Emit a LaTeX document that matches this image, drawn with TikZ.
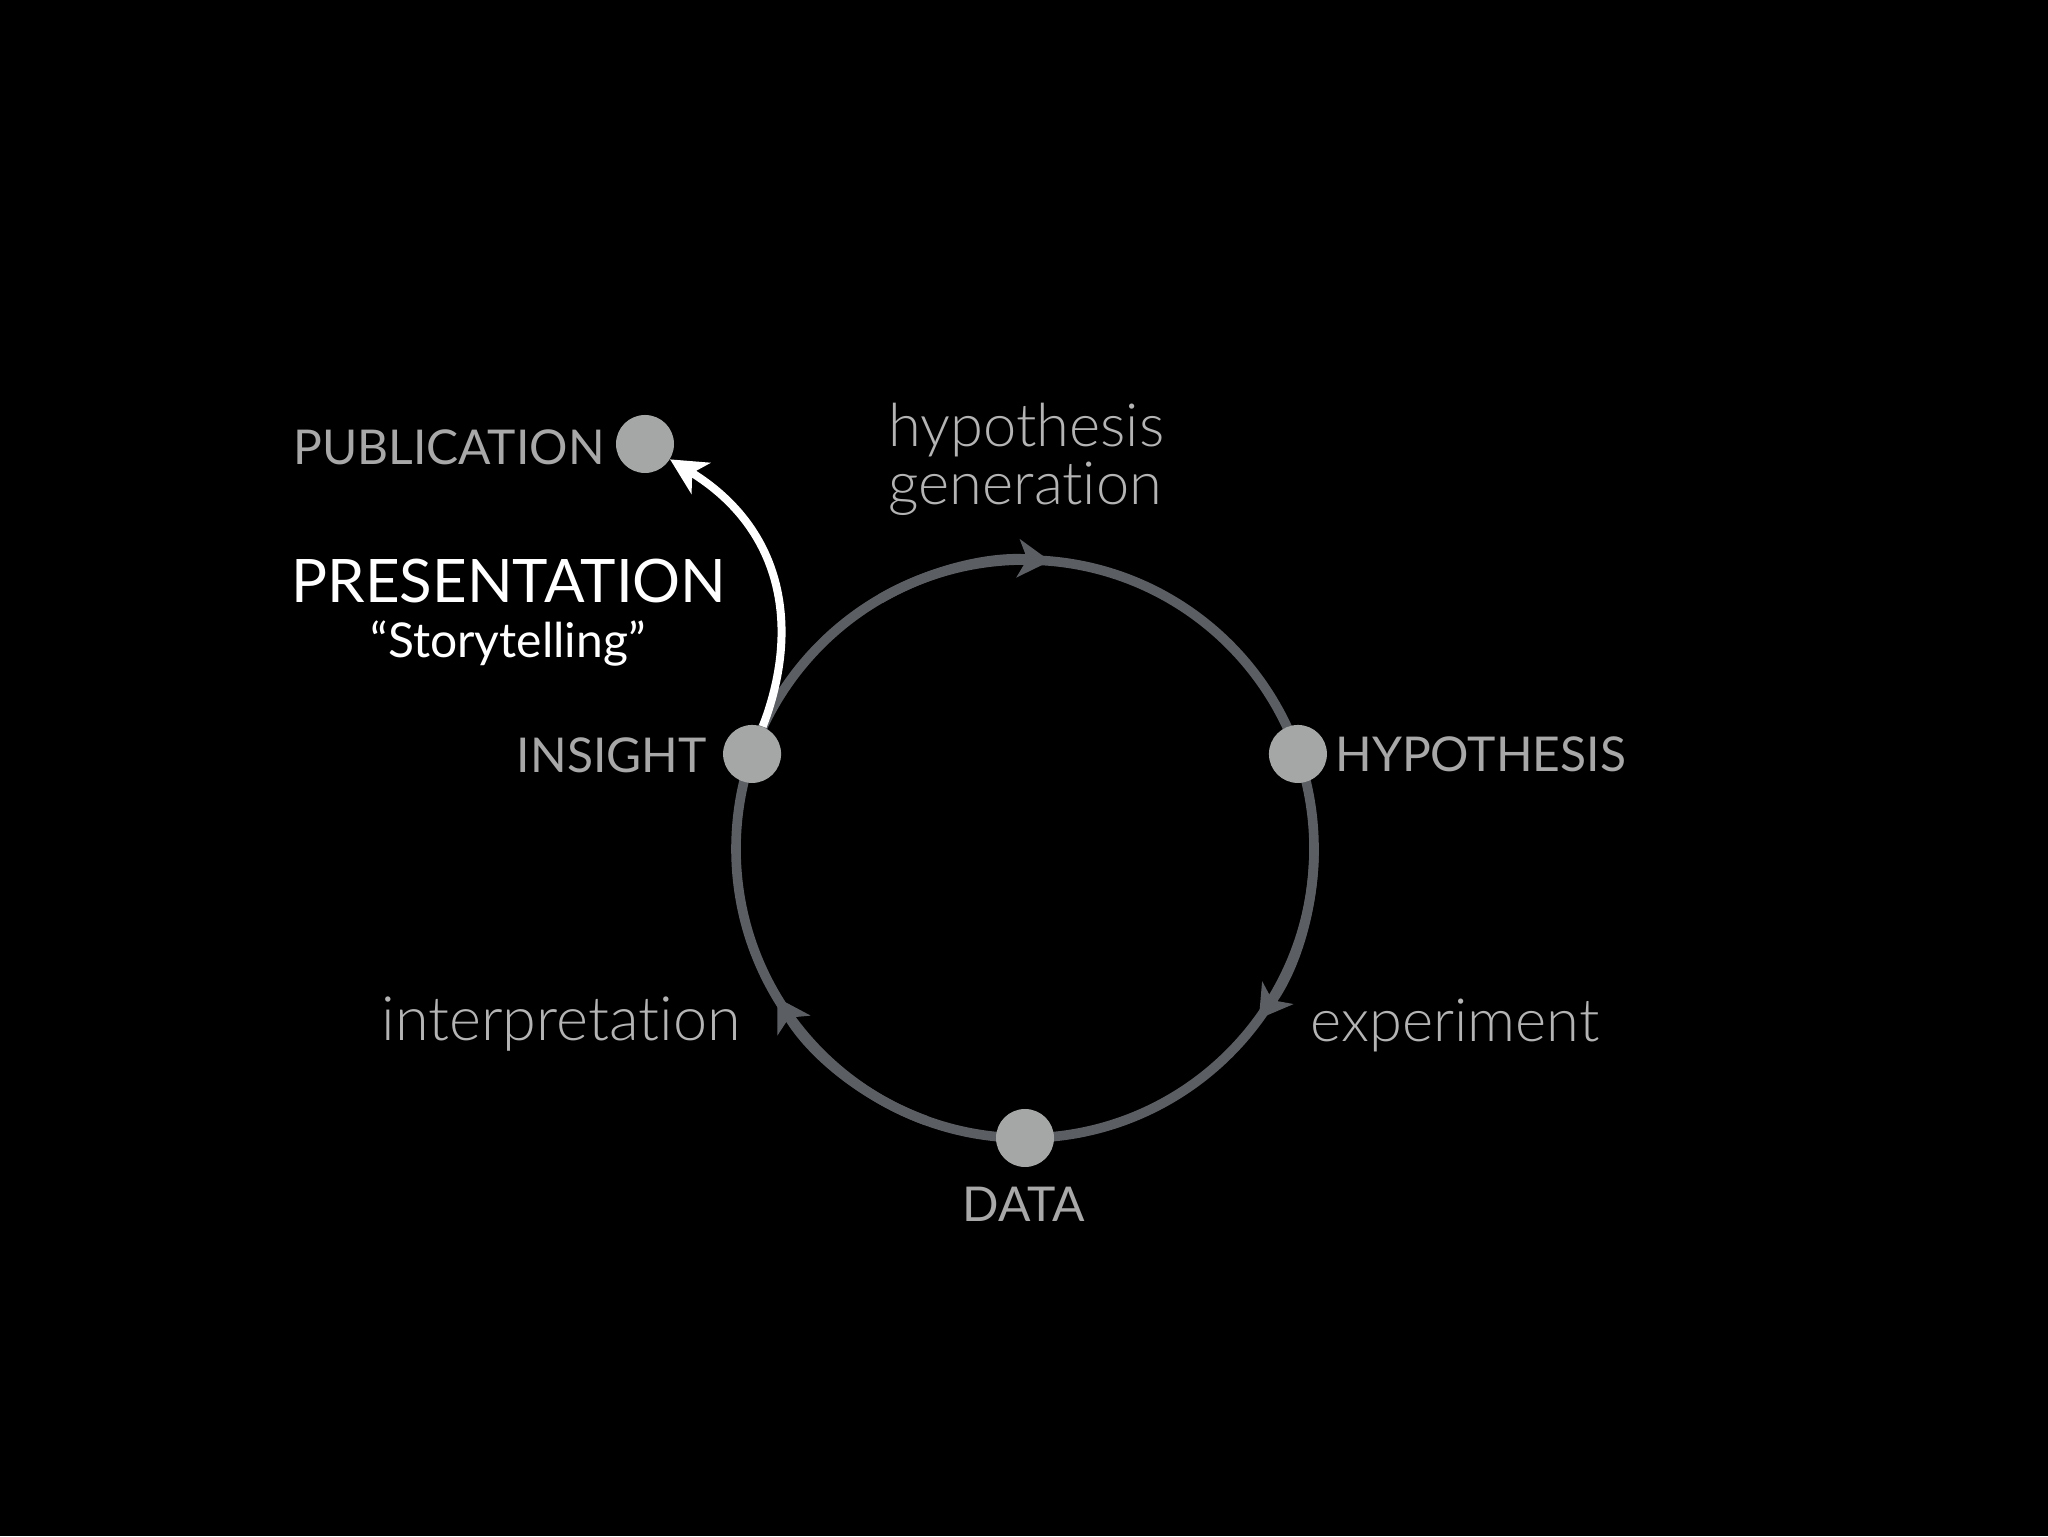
\documentclass[tikz,border=0pt]{standalone}
\usepackage{fontspec}
\setmainfont{Lato}[Ligatures={NoCommon}]
\newfontfamily\lightfont{Lato Light}[Ligatures={NoCommon,NoRare}]
\usetikzlibrary{arrows.meta}
\definecolor{ringc}{HTML}{5B5E63}
\definecolor{dotc}{HTML}{A4A7A6}
\definecolor{capc}{HTML}{A8A8A8}
\definecolor{lightc}{HTML}{B4B4B4}
\begin{document}
\begin{tikzpicture}[x=0.5pt,y=0.5pt,
  dot/.style={circle,fill=dotc,minimum size=29pt,inner sep=0pt},
  caplabel/.style={text=capc,font=\fontsize{24}{28}\selectfont,inner sep=0pt},
  phase/.style={text=lightc,font=\lightfont\fontsize{29.8}{36}\selectfont,inner sep=0pt},
  ring/.style={draw=ringc,line width=4.8pt},
  ringtip/.style={-{Stealth[length=16pt,width=19pt,inset=4.5pt]}},
  presarrow/.style={draw=white,line width=4pt,-{Stealth[length=18pt,width=18pt,inset=5pt]}},
]
\fill[black] (0,0) rectangle (2048,1536);
\useasboundingbox (0,0) rectangle (2048,1536);
\coordinate (c) at (1025,687);
% ring
\draw[ring] (c) circle[radius=144.5pt];
\draw[ring,ringtip] ([shift={(120:144.5pt)}]c) arc[start angle=120,end angle=85,radius=144.5pt];
\draw[ring,ringtip] ([shift={(0:144.5pt)}]c) arc[start angle=0,end angle=-36,radius=144.5pt];
\draw[ring,ringtip] ([shift={(250:144.5pt)}]c) arc[start angle=250,end angle=211,radius=144.5pt];
% dots
\node[dot] (pub) at (645,1092) {};
\node[dot] (ins) at ([shift={(160.8:144.5pt)}]c) {};
\node[dot] (hyp) at ([shift={(19.2:144.5pt)}]c) {};
\node[dot] (dat) at ([shift={(270:144.5pt)}]c) {};
% presentation arrow
\draw[presarrow] (ins) .. controls (800,906) and (785,1006) .. (pub);
% labels
\node[caplabel,anchor=east] (publ) at (605,1089) {PUBLICATION};
\node[text=white,font=\fontsize{30}{36}\selectfont,inner sep=0pt] (pres) at (509,955) {PRESENTATION};
\node[text=white,font=\fontsize{24}{28}\selectfont,inner sep=0pt,anchor=base] (story) at (508,878) {“Storytelling”};
\node[caplabel,anchor=east] (insl) at (707,781) {INSIGHT};
\node[caplabel,anchor=west] (hypl) at (1335,782) {HYPOTHESIS};
\node[caplabel] (datl) at (1024,332) {DATA};
\node[phase,anchor=base west] (hg1) at (888,1089) {hypothesis};
\node[phase,anchor=base west] (hg2) at (888,1031.5) {generation};
\node[phase,anchor=base west,font=\lightfont\fontsize{30.6}{36}\selectfont] (interp) at (381,495) {interpretation};
\node[phase,anchor=base west] (exper) at (1310,494) {experiment};
\end{tikzpicture}
\end{document}
